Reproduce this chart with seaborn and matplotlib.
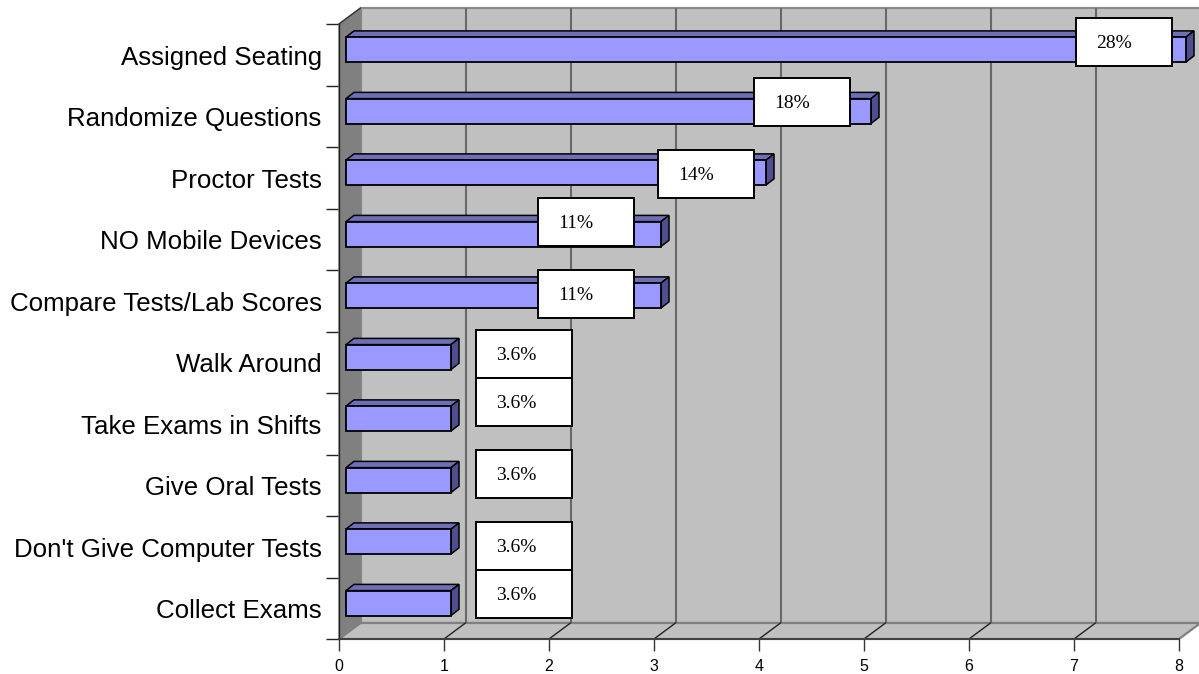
import matplotlib
matplotlib.use("Agg")
import matplotlib.pyplot as plt
from matplotlib.patches import Polygon, Rectangle
from matplotlib.transforms import Affine2D
import pandas as pd
import seaborn as sns

categories = ["Assigned Seating", "Randomize Questions", "Proctor Tests", "NO Mobile Devices",
              "Compare Tests/Lab Scores", "Walk Around", "Take Exams in Shifts", "Give Oral Tests",
              "Don't Give Computer Tests", "Collect Exams"]
counts = [8, 5, 4, 3, 3, 1, 1, 1, 1, 1]
percent_labels = ["28%", "18%", "14%", "11%", "11%", "3.6%", "3.6%", "3.6%", "3.6%", "3.6%"]

# layout, in reference pixels
W, H = 1199, 674
L, R, T, B = 339, 1179, 24, 639
DX, DY = 21.5, 16
BOX_LEFT = [1076, 754, 658, 538, 538, 476, 476, 476, 476, 476]
BOX_TOP = [18, 78, 150, 198, 270, 330, 378, 450, 522, 570]
BOX_W, BOX_H = 96, 48

df = pd.DataFrame({"category": categories, "count": counts})
sns.set_theme(style="white")
plt.rcParams["font.family"] = ["Liberation Sans", "DejaVu Sans"]

fig = plt.figure(figsize=(W / 100, H / 100), dpi=100, facecolor="white")
ax = fig.add_axes([L / W, 1 - B / H, (R - L) / W, (B - T) / H])
ax.patch.set_alpha(0)
PX = Affine2D().scale(1, -1).translate(0, H)


def poly(pts, fc, ec="none", lw=0, z=0.5):
    ax.add_patch(Polygon(pts, closed=True, facecolor=fc, edgecolor=ec, linewidth=lw,
                         transform=PX, clip_on=False, zorder=z, joinstyle="miter"))


sns.barplot(data=df, y="category", x="count", orient="h", color="#9999FF", saturation=1,
            width=0.405, edgecolor="black", linewidth=1.3, ax=ax, zorder=3)
ax.set_xlim(0, 8)
ax.set_ylim(9.5, -0.5)
ax.set_xlabel("")
ax.set_ylabel("")

# walls and floor
poly([(L + DX, T - DY), (W + 2, T - DY), (W + 2, B - DY), (L + DX, B - DY)], "#C0C0C0", "#8A8A8A", 1.6)
poly([(L, B), (R, B), (R + DX, B - DY), (L + DX, B - DY)], "#C0C0C0", "#808080", 1.6, 0.6)
poly([(L, T), (L + DX, T - DY), (L + DX, B - DY), (L, B)], "#808080", "#808080", 1.0, 0.7)

# gridlines on back wall and floor
depth = ax.transData + Affine2D().translate(DX, DY)
ax.vlines(range(1, 8), 9.5, -0.5, colors="#686868", linewidth=1.5, transform=depth, zorder=1, clip_on=False)
for v in range(1, 8):
    x0 = ax.transData.transform((v, 0))[0]
    ax.plot([x0, x0 + DX], [B, B - DY], color="#222222", lw=1.0, transform=PX, clip_on=False, zorder=1)
ax.plot([L, L + DX], [T, T - DY], color="#333333", lw=1.0, transform=PX, clip_on=False, zorder=1)

# bar faces
shift = ax.transData + Affine2D().translate(7, 5.2)
to_px = PX.inverted()
bd_x, bd_y = 8, 6.2
for bar in ax.patches:
    if not isinstance(bar, Rectangle):
        continue
    (x0, y0), (x1, y1) = to_px.transform(shift.transform(
        [(bar.get_x(), bar.get_y()), (bar.get_x() + bar.get_width(), bar.get_y() + bar.get_height())]))
    yt, yb = min(y0, y1), max(y0, y1)
    poly([(x0, yt), (x1, yt), (x1 + bd_x, yt - bd_y), (x0 + bd_x, yt - bd_y)], "#6F6FB8", "black", 1.1, 2.5)
    poly([(x1, yt), (x1 + bd_x, yt - bd_y), (x1 + bd_x, yb - bd_y), (x1, yb)], "#4F4F8F", "black", 1.1, 2.5)
    bar.set_transform(shift)
    bar.set_clip_on(False)

# axes furniture
ax.set_yticks(range(10), categories)
ax.set_yticks([i - 0.5 for i in range(11)], minor=True)
ax.tick_params(axis="y", which="major", length=0, pad=12.5, labelsize=18.6, colors="black")
ax.tick_params(axis="y", which="minor", left=True, length=9.4, width=1.0, color="#222222")
for lbl in ax.get_yticklabels():
    lbl.set_transform(lbl.get_transform() + Affine2D().translate(0, -0.5))
ax.set_xticks(range(9))
ax.tick_params(axis="x", which="major", bottom=True, length=8.6, width=1.0, color="#333333",
               pad=5.5, labelsize=11.5, labelcolor="black")
for s in ("top", "right"):
    ax.spines[s].set_visible(False)
ax.spines["left"].set(color="#222222", linewidth=1.0, zorder=2)
ax.spines["bottom"].set(color="#404040", linewidth=1.4, zorder=2)

# value label boxes
for txt, bl, bt in zip(percent_labels, BOX_LEFT, BOX_TOP):
    ax.add_patch(Rectangle((bl, bt), BOX_W, BOX_H, facecolor="white", edgecolor="black", linewidth=1.4,
                           transform=PX, clip_on=False, zorder=5))
    ax.text(bl + 20.5, bt + BOX_H / 2 + 2, txt, transform=PX, ha="left", va="center", color="black",
            family=["Liberation Serif"], fontsize=14, zorder=6)

fig.savefig("out.png", dpi=100, facecolor="white")
